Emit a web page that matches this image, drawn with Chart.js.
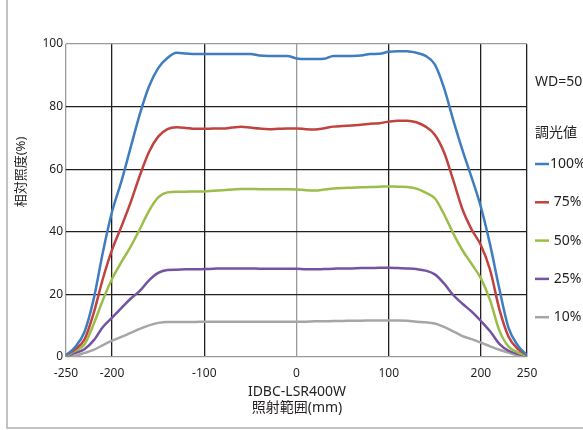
<!DOCTYPE html>
<html>
<head>
<meta charset="utf-8">
<script src="https://cdn.jsdelivr.net/npm/chart.js@4.4.1/dist/chart.umd.min.js"></script>
<style>
  body { margin: 0; background: #fff; }
  #wrap { position: relative; width: 583px; height: 430px; }
</style>
</head>
<body>
<div id="wrap"><canvas id="lineChart"></canvas></div>
<script>
// position (mm) of each sample
const positions = [
  -250, -240, -230, -220, -210, -200, -190, -180, -170, -160,
  -150, -140, -130, -120, -110, -100, -90, -80, -70, -60,
  -50, -40, -30, -20, -10, 0, 10, 20, 30, 40,
  50, 60, 70, 80, 90, 100, 110, 120, 130, 140,
  150, 160, 170, 180, 190, 200, 210, 220, 230, 240, 250
];

const dim100 = [
  0.6, 3.2, 8, 18.5, 33.5, 46.5, 56, 66.8, 77.5, 86.4,
  92.3, 95.5, 97.2, 97, 96.8, 96.8, 96.8, 96.8, 96.8, 96.8,
  96.8, 96.3, 96.2, 96.2, 96.2, 95.4, 95.2, 95.2, 95.3, 96.2,
  96.2, 96.2, 96.3, 96.8, 96.9, 97.5, 97.7, 97.7, 97.2, 96.2,
  93.5, 86, 75.7, 66.1, 57.3, 47.9, 35.9, 21.8, 9.3, 3.7, 0.6
];
const dim75 = [
  0.6, 2.5, 5.6, 14, 25, 34.3, 41.6, 49.3, 57.9, 65.5,
  70.4, 72.8, 73.4, 73.2, 72.9, 72.9, 73, 73, 73.3, 73.6,
  73.3, 73, 72.8, 72.9, 73, 73, 72.8, 72.7, 73.1, 73.6,
  73.8, 74, 74.2, 74.5, 74.7, 75.2, 75.5, 75.5, 75, 73.6,
  71, 65.4, 56.5, 47.2, 40.7, 35.7, 27.8, 15.3, 6.5, 2.6, 0.6
];
const dim50 = [
  0.3, 2, 4, 10.5, 18.2, 25, 30.3, 35.2, 40.8, 46.7,
  51, 52.6, 52.8, 52.8, 52.9, 52.9, 53.1, 53.3, 53.5, 53.7,
  53.7, 53.6, 53.6, 53.6, 53.6, 53.5, 53.3, 53.2, 53.5, 53.8,
  54, 54.1, 54.2, 54.3, 54.4, 54.5, 54.4, 54.3, 53.8, 52.5,
  50.7, 45.6, 39.5, 34.1, 29.7, 25.1, 18.1, 8.5, 3.3, 1.5, 0.3
];
const dim25 = [
  0.2, 1.3, 2.5, 5.3, 9.6, 12.6, 15.6, 18.6, 21.1, 24.5,
  26.9, 27.8, 27.9, 28, 28, 28.1, 28.2, 28.3, 28.3, 28.3,
  28.3, 28.2, 28.2, 28.2, 28.2, 28.2, 28, 28, 28.1, 28.2,
  28.3, 28.3, 28.4, 28.4, 28.5, 28.5, 28.4, 28.3, 28.1, 27.6,
  26.4, 23.5, 19.8, 17, 14.5, 11.5, 8.2, 4.2, 2, 1, 0.3
];
const dim10 = [
  0, 0.4, 1.3, 2.3, 3.8, 5.2, 6.4, 7.7, 9, 10.1,
  10.9, 11.2, 11.2, 11.2, 11.2, 11.3, 11.3, 11.3, 11.3, 11.3,
  11.3, 11.3, 11.3, 11.3, 11.3, 11.3, 11.3, 11.4, 11.4, 11.5,
  11.5, 11.6, 11.6, 11.7, 11.7, 11.7, 11.7, 11.6, 11.3, 11.1,
  10.7, 9.6, 8.2, 6.7, 5.7, 4.6, 3.4, 2.3, 1.4, 0.6, 0.2
];

const xTicks = [-250, -200, -100, 0, 100, 200, 250];
const seriesNames = ['100%', ' 75%', ' 50%', ' 25%', ' 10%'];
const seriesColors = ['#3f7dc0', '#c0433f', '#9bbd4a', '#7453a2', '#a6a6a6'];
const seriesData = [dim100, dim75, dim50, dim25, dim10];

const ink = '#231f20';
const soft = '#9a9a9a';
const font = '"Noto Sans", "Noto Sans CJK JP", sans-serif';

// titles, legend and outer frame
const decorations = {
  id: 'decorations',
  beforeDraw(chart) {
    const c = chart.ctx;
    c.save();
    c.strokeStyle = '#b0b0b0';
    c.lineWidth = 1.5;
    c.beginPath();
    c.moveTo(7, 0);
    c.lineTo(7, 428);
    c.lineTo(583, 428);
    c.stroke();
    c.restore();
  },
  afterDraw(chart) {
    const c = chart.ctx;
    c.save();
    c.fillStyle = ink;
    c.textBaseline = 'middle';

    // y title
    c.save();
    c.translate(21, 172);
    c.rotate(-Math.PI / 2);
    c.textAlign = 'center';
    c.font = '13px ' + font;
    c.fillText('相対照度(%)', 0, 0);
    c.restore();

    // x title
    c.textAlign = 'center';
    c.font = '14px ' + font;
    c.fillText('IDBC-LSR400W', 297, 392);
    c.fillText('照射範囲(mm)', 297, 408);

    // legend
    c.textAlign = 'left';
    c.font = '14px ' + font;
    c.fillText('WD=50', 535, 82);
    c.fillText('調光値', 535, 133);
    seriesNames.forEach((name, i) => {
      const y = 164 + i * 38.3;
      c.strokeStyle = seriesColors[i];
      c.lineWidth = 2.5;
      c.beginPath();
      c.moveTo(535, y);
      c.lineTo(549, y);
      c.stroke();
      c.fillText(name, 550, y);
    });
    c.restore();
  }
};

new Chart(document.getElementById('lineChart'), {
  type: 'line',
  data: {
    labels: positions,
    datasets: seriesData.map((d, i) => ({
      label: seriesNames[i].trim(),
      data: d.map((v, k) => ({ x: positions[k], y: v })),
      borderColor: seriesColors[i],
      borderWidth: 2.5,
      pointRadius: 0,
      cubicInterpolationMode: 'monotone',
      fill: false,
      order: i
    }))
  },
  options: {
    responsive: true,
    maintainAspectRatio: false,
    animation: false,
    layout: { padding: { top: 44, right: 56, left: 0, bottom: 0 } },
    plugins: {
      legend: { display: false },
      tooltip: { enabled: false }
    },
    scales: {
      x: {
        type: 'linear',
        min: -250,
        max: 250,
        afterBuildTicks: axis => { axis.ticks = xTicks.map(v => ({ value: v })); },
        afterFit: s => { s.height = 73; },
        border: { display: false },
        grid: {
          drawTicks: false,
          lineWidth: 1.3,
          color: ctx => (ctx.tick && (ctx.tick.value === 0 || ctx.tick.value === -250)) ? soft : ink
        },
        ticks: {
          padding: 9,
          maxRotation: 0,
          color: ink,
          font: { family: font, size: 12 }
        }
      },
      y: {
        min: 0,
        max: 100,
        afterFit: s => { s.width = 66; },
        border: { display: false },
        grid: {
          drawTicks: false,
          lineWidth: 1.3,
          color: ctx => (ctx.tick && (ctx.tick.value === 0 || ctx.tick.value === 100)) ? soft : ink
        },
        ticks: {
          stepSize: 20,
          padding: 3,
          color: ink,
          font: { family: font, size: 12 }
        }
      }
    }
  },
  plugins: [decorations]
});
</script>
</body>
</html>
